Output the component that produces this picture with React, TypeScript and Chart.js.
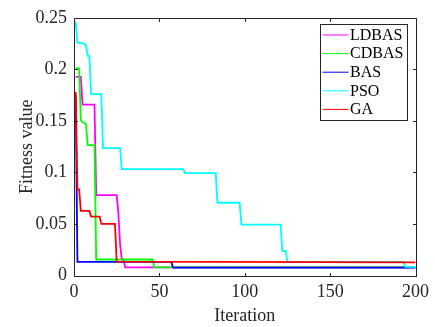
import React, { useEffect, useRef } from 'react';
import { Chart, registerables } from 'chart.js';

Chart.register(...registerables);

// ---- data ----
const seriesNames = ['LDBAS', 'CDBAS', 'BAS', 'PSO', 'GA'];
const seriesColors = ['#ff00ff', '#00ff00', '#0000ff', '#00ffff', '#ff0000'];

const ldbasIter = [1, 4, 5, 12, 13, 25, 26, 27, 28, 29, 30, 200];
const ldbasVal = [0.1926, 0.1926, 0.1658, 0.1658, 0.078, 0.078, 0.06, 0.03, 0.0155, 0.0155, 0.0078, 0.0078];

const cdbasIter = [1, 3, 4, 5, 6, 7, 8, 12, 13, 46, 47, 200];
const cdbasVal = [0.201, 0.201, 0.1505, 0.149, 0.148, 0.147, 0.1265, 0.1265, 0.0155, 0.0155, 0.0078, 0.0078];

const basIter = [1, 2, 57, 58, 200];
const basVal = [0.175, 0.0132, 0.0132, 0.0076, 0.0076];

const psoIter = [1, 2, 6, 7, 8, 9, 10, 16, 17, 27, 28, 64, 65, 83, 84, 97, 98, 121, 122, 124, 125, 193, 194, 200];
const psoVal = [0.246, 0.226, 0.225, 0.223, 0.213, 0.213, 0.176, 0.176, 0.1235, 0.1235, 0.1032, 0.1032, 0.0993, 0.0993, 0.0706, 0.0706, 0.0493, 0.0493, 0.0237, 0.0237, 0.0132, 0.0132, 0.0084, 0.0084];

const gaIter = [1, 2, 3, 4, 9, 10, 15, 16, 24, 25, 200];
const gaVal = [0.178, 0.0835, 0.0835, 0.0627, 0.0627, 0.0572, 0.0572, 0.05, 0.05, 0.0135, 0.0128];

const xTicks = [0, 50, 100, 150, 200];
const xTickLabels = ['0', '50', '100', '150', '200'];
const yTicks = [0, 0.05, 0.1, 0.15, 0.2, 0.25];
const yTickLabels = ['0', '0.05', '0.1', '0.15', '0.2', '0.25'];
const xLabel = 'Iteration';
const yLabel = 'Fitness value';

const seriesIters = [ldbasIter, cdbasIter, basIter, psoIter, gaIter];
const seriesVals = [ldbasVal, cdbasVal, basVal, psoVal, gaVal];

const FONT = "'Liberation Serif', 'Times New Roman', serif";
const AXIS_COLOR = '#262626';

const boxPlugin = {
  id: 'matlabBox',
  afterDatasetsDraw(chart: any) {
    const { ctx, chartArea } = chart;
    const { left, right, top, bottom } = chartArea;
    const xs = chart.scales.x;
    const ys = chart.scales.y;
    ctx.save();
    ctx.strokeStyle = AXIS_COLOR;
    ctx.lineWidth = 1;
    ctx.beginPath();
    const L = Math.round(left) + 0.5;
    const R = Math.round(right) + 0.5;
    const T = Math.round(top) + 0.5;
    const B = Math.round(bottom) + 0.5;
    ctx.rect(L, T, R - L, B - T);
    const tl = 3.5;
    xTicks.forEach((v) => {
      const px = Math.round(xs.getPixelForValue(v)) + 0.5;
      ctx.moveTo(px, B);
      ctx.lineTo(px, B - tl);
      ctx.moveTo(px, T);
      ctx.lineTo(px, T + tl);
    });
    yTicks.forEach((v) => {
      const py = Math.round(ys.getPixelForValue(v)) + 0.5;
      ctx.moveTo(L, py);
      ctx.lineTo(L + tl, py);
      ctx.moveTo(R, py);
      ctx.lineTo(R - tl, py);
    });
    ctx.stroke();

    // legend
    const lx0 = 320.5, ly0 = 24.5, lx1 = 407.5, ly1 = 120.5;
    ctx.fillStyle = '#ffffff';
    ctx.fillRect(lx0, ly0, lx1 - lx0, ly1 - ly0);
    ctx.strokeStyle = AXIS_COLOR;
    ctx.strokeRect(lx0, ly0, lx1 - lx0, ly1 - ly0);
    ctx.font = `16px ${FONT}`;
    ctx.textBaseline = 'middle';
    ctx.textAlign = 'left';
    seriesNames.forEach((name, i) => {
      const y = 35 + i * 18.6;
      ctx.strokeStyle = seriesColors[i];
      ctx.lineWidth = 1;
      ctx.beginPath();
      ctx.moveTo(322.5, y);
      ctx.lineTo(348.5, y);
      ctx.stroke();
      ctx.fillStyle = '#000000';
      ctx.fillText(name, 350, y + 0.5);
    });
    ctx.restore();
  },
};

export default function App() {
  const ref = useRef<HTMLCanvasElement>(null);
  useEffect(() => {
    if (!ref.current) return;
    const datasets = seriesNames.map((name, i) => ({
      label: name,
      data: seriesIters[i].map((x, k) => ({ x, y: seriesVals[i][k] })),
      borderColor: seriesColors[i],
      backgroundColor: seriesColors[i],
      borderWidth: 1.8,
      pointRadius: 0,
      tension: 0,
      fill: false,
      order: seriesNames.length - i,
    }));
    const chart = new Chart(ref.current, {
      type: 'line',
      data: { datasets },
      plugins: [boxPlugin],
      options: {
        animation: false,
        responsive: false,
        devicePixelRatio: 1,
        layout: { padding: { top: 14, right: 18, left: 0, bottom: 0 } },
        plugins: { legend: { display: false }, tooltip: { enabled: false } },
        scales: {
          x: {
            type: 'linear',
            min: 0,
            max: 200,
            afterBuildTicks: (s: any) => {
              s.ticks = xTicks.map((v) => ({ value: v }));
            },
            afterFit: (s: any) => {
              s.height = 51.5;
            },
            grid: { display: false, drawTicks: false },
            border: { display: false },
            ticks: {
              padding: 6,
              color: AXIS_COLOR,
              font: { family: FONT, size: 18 },
              maxRotation: 0,
              callback: (_v: any, idx: number) => xTickLabels[idx],
            },
            title: {
              display: true,
              text: xLabel,
              color: AXIS_COLOR,
              font: { family: FONT, size: 18 },
              padding: { top: 0, bottom: 0 },
            },
          },
          y: {
            type: 'linear',
            min: 0,
            max: 0.25,
            afterBuildTicks: (s: any) => {
              s.ticks = yTicks.map((v) => ({ value: v }));
            },
            afterFit: (s: any) => {
              s.width = 74;
            },
            grid: { display: false, drawTicks: false },
            border: { display: false },
            ticks: {
              padding: 7,
              color: AXIS_COLOR,
              font: { family: FONT, size: 18 },
              callback: (_v: any, idx: number) => yTickLabels[idx],
            },
            title: {
              display: true,
              text: yLabel,
              color: AXIS_COLOR,
              font: { family: FONT, size: 18 },
              padding: { top: 16, bottom: 0 },
            },
          },
        },
      },
    } as any);
    return () => chart.destroy();
  }, []);
  return (
    <div style={{ position: 'fixed', left: 0, top: 0, width: 435, height: 327, background: '#ffffff' }}>
      <canvas ref={ref} width={435} height={327} style={{ width: 435, height: 327, display: 'block' }} />
    </div>
  );
}
